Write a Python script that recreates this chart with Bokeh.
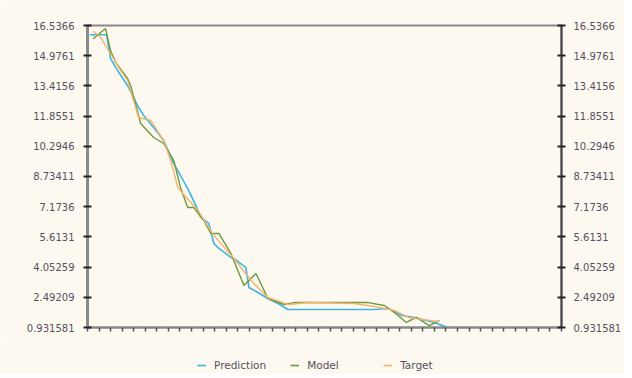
from bokeh.plotting import figure
from bokeh.models import Range1d, FixedTicker, LinearAxis, Legend, LegendItem
from bokeh.layouts import column
from bokeh.embed import file_html
from bokeh.resources import INLINE

# ---- data ----
y_tick_labels = ["0.931581", "2.49209", "4.05259", "5.6131", "7.1736", "8.73411",
                 "10.2946", "11.8551", "13.4156", "14.9761", "16.5366"]
y_tick_values = [0.931581, 2.49209, 4.05259, 5.6131, 7.1736, 8.73411,
                 10.2946, 11.8551, 13.4156, 14.9761, 16.5366]
x_ticks = list(range(0, 42))

pred_x = [0.2, 1.65, 2.0, 2.43, 3.56, 4.42, 4.86, 6.07, 6.59, 7.46, 8.67, 9.37, 9.80,
          10.49, 10.93, 11.27, 12.40, 12.66, 13.70, 13.96, 14.74, 15.61, 16.48, 17.35,
          24.80, 26.02, 27.15, 28.27, 30.01, 31.11]
pred_y = [16.06, 16.06, 14.83, 14.37, 13.33, 12.30, 11.89, 11.01, 10.59, 9.41, 8.11, 7.24, 6.62,
          6.31, 5.27, 5.07, 4.55, 4.50, 4.03, 3.00, 2.74, 2.43, 2.17, 1.86,
          1.86, 1.91, 1.55, 1.45, 1.19, 0.94]

model_x = [0.49, 1.04, 1.56, 1.99, 2.43, 3.47, 3.73, 4.60, 5.72, 6.59, 7.46, 8.07, 8.67, 9.19,
           10.06, 10.67, 11.36, 12.40, 13.53, 14.57, 15.61, 17.00, 17.87, 24.28, 25.67,
           26.54, 27.58, 28.45, 29.57, 30.44]
model_y = [15.85, 16.12, 16.38, 15.24, 14.63, 13.80, 13.44, 11.47, 10.75, 10.44, 9.56, 8.11, 7.13, 7.13,
           6.46, 5.79, 5.79, 4.76, 3.10, 3.72, 2.43, 2.12, 2.22, 2.22, 2.07,
           1.71, 1.19, 1.45, 1.03, 1.29]

target_x = [0.49, 1.13, 1.99, 2.69, 3.47, 4.42, 5.46, 6.59, 7.20, 7.81, 8.24, 9.54, 10.93,
            12.66, 14.14, 15.61, 17.35, 19.08, 23.07, 24.80, 26.54, 27.75, 28.88, 30.36]
target_y = [16.24, 15.92, 15.09, 14.37, 13.69, 11.78, 11.63, 10.59, 9.56, 8.17, 7.86, 6.98, 5.69,
            4.50, 3.36, 2.48, 2.12, 2.22, 2.17, 2.02, 1.81, 1.45, 1.35, 1.24]

series_names = ["Prediction", "Model", "Target"]
series_colors = ["#3cb4e6", "#6b9a3c", "#f4b26a"]
series_x = [pred_x, model_x, target_x]
series_y = [pred_y, model_y, target_y]

# ---- main figure ----
BG = "#fdf9f0"
FONT = "DejaVu Sans"
LABEL_COLOR = "#55505f"

p = figure(width=624, height=339, output_backend="svg", toolbar_location=None,
           x_range=Range1d(0, 41), y_range=Range1d(y_tick_values[0], y_tick_values[-1]),
           x_axis_location="below", y_axis_location="left",
           min_border_left=87, min_border_right=63, min_border_top=25, min_border_bottom=12)
p.background_fill_color = BG
p.border_fill_color = BG
p.grid.visible = False
p.outline_line_color = "#8a8a8a"
p.outline_line_width = 2

# bottom axis: unlabeled ticks drawn as minor ticks (no major ticks, no labels)
xa = p.xaxis[0]
xa.ticker = FixedTicker(ticks=[], minor_ticks=x_ticks)
xa.major_tick_line_color = None
xa.minor_tick_in = 0
xa.minor_tick_out = 4
xa.minor_tick_line_color = "#555555"
xa.minor_tick_line_width = 1.5
xa.axis_line_color = "#8a8a8a"
xa.axis_line_width = 2
xa.major_label_standoff = 0

label_overrides = {v: s for v, s in zip(y_tick_values, y_tick_labels)}

# left axis
ya = p.yaxis[0]
ya.ticker = FixedTicker(ticks=y_tick_values)
ya.major_label_overrides = label_overrides
ya.minor_tick_line_color = None
ya.major_tick_in = 4
ya.major_tick_out = 4
ya.major_tick_line_color = "#222222"
ya.major_tick_line_width = 2
ya.axis_line_color = "#8a8a8a"
ya.axis_line_width = 3
ya.major_label_standoff = 9
ya.major_label_text_font = FONT
ya.major_label_text_font_size = "10px"
ya.major_label_text_color = LABEL_COLOR

# right axis
ra = LinearAxis(ticker=FixedTicker(ticks=y_tick_values))
ra.major_label_overrides = label_overrides
ra.minor_tick_line_color = None
ra.major_tick_in = 4
ra.major_tick_out = 4
ra.major_tick_line_color = "#222222"
ra.major_tick_line_width = 2
ra.axis_line_color = "#444444"
ra.axis_line_width = 2
ra.major_label_standoff = 8
ra.major_label_text_font = FONT
ra.major_label_text_font_size = "10px"
ra.major_label_text_color = LABEL_COLOR
p.add_layout(ra, "right")

# lines
widths = [1.6, 1.4, 1.4]
for sx, sy, c, w in zip(series_x, series_y, series_colors, widths):
    p.line(sx, sy, line_color=c, line_width=w)

# ---- legend strip (separate small figure below the chart) ----
# same series drawn again, but out of this strip's view range, so only the
# legend swatches show
lg = figure(width=624, height=35, output_backend="svg", toolbar_location=None,
            x_range=Range1d(-3, -2), y_range=Range1d(-3, -2),
            min_border_left=87, min_border_right=63, min_border_top=0, min_border_bottom=0)
lg.background_fill_color = BG
lg.border_fill_color = BG
lg.outline_line_color = None
lg.grid.visible = False
lg.axis.visible = False
leg_renderers = [lg.line(sx, sy, line_color=c, line_width=1.6)
                 for sx, sy, c in zip(series_x, series_y, series_colors)]

legend = Legend(items=[LegendItem(label=n, renderers=[r]) for n, r in zip(series_names, leg_renderers)],
                location=(110, 2), orientation="horizontal",
                glyph_width=9, glyph_height=14, label_height=14, label_width=52,
                label_standoff=8, spacing=24, padding=0, margin=0,
                border_line_alpha=0, background_fill_alpha=0,
                label_text_font=FONT, label_text_font_size="10.5px",
                label_text_color=LABEL_COLOR)
lg.add_layout(legend, "center")

layout = column(p, lg, spacing=0)
open("out.html", "w").write(file_html(layout, INLINE))
